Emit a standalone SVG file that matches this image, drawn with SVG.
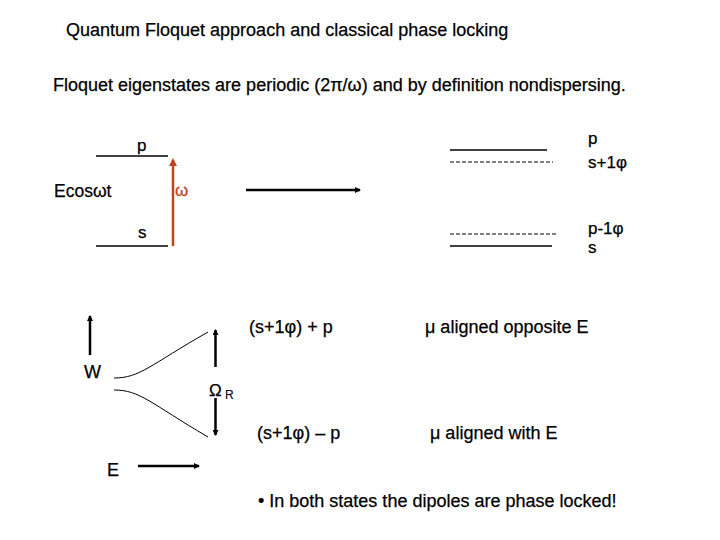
<svg xmlns="http://www.w3.org/2000/svg" width="720" height="540" viewBox="0 0 720 540">
<defs>
<style>
text{font-family:"Liberation Sans",Arial,sans-serif;font-size:18px;fill:#000;stroke:#000;stroke-width:0.25}
.ln{stroke:#000;stroke-width:1.3;fill:none}
.ds{stroke:#000;stroke-width:1;stroke-dasharray:4,2;fill:none}
.ar{stroke:#000;stroke-width:2.5;fill:none}
.cv{stroke:#000;stroke-width:1;fill:none}
</style>
<marker id="ah" markerWidth="6" markerHeight="6" refX="5" refY="3" orient="auto" markerUnits="userSpaceOnUse" viewBox="0 0 6 6"><path d="M0,0 L6,3 L0,6 z" fill="#000"/></marker>
<marker id="aho" markerWidth="8" markerHeight="8" refX="6" refY="4" orient="auto" markerUnits="userSpaceOnUse" viewBox="0 0 8 8"><path d="M0,0 L8,4 L0,8 z" fill="#c0441e"/></marker>
</defs>
<rect width="720" height="540" fill="#fff"/>
<g id="title"><text x="66" y="36">Quantum Floquet approach and classical phase locking</text></g>
<g id="subtitle"><text x="53" y="91">Floquet eigenstates are periodic (2π/ω) and by definition nondispersing.</text></g>
<g id="left-levels">
<line class="ln" x1="96" y1="156" x2="168" y2="156"/>
<text x="137" y="151" style="font-size:17px">p</text>
<line class="ln" x1="96" y1="246" x2="168" y2="246"/>
<text x="138" y="238" style="font-size:17px">s</text>
<text x="54" y="197" style="font-size:17.5px">Ecosωt</text>
<text x="175" y="196" style="font-size:17px;fill:#c0441e;stroke:#c0441e">ω</text>
</g>
<g id="right-levels">
<line class="ln" x1="450" y1="150" x2="547" y2="150"/>
<line class="ds" x1="450" y1="162" x2="553" y2="162"/>
<line class="ds" x1="450" y1="234" x2="558" y2="234"/>
<line class="ln" x1="450" y1="246" x2="552" y2="246"/>
<text x="588" y="144" style="font-size:17px">p</text>
<text x="588" y="168" style="font-size:17px">s+1φ</text>
<text x="588" y="234" style="font-size:17px">p-1φ</text>
<text x="588" y="253" style="font-size:17px">s</text>
</g>
<g id="split">
<text x="84" y="378">W</text>
<path class="cv" d="M114,378 C140,378 150,365 208,332"/>
<path class="cv" d="M114,390 C140,390 150,403 208,437"/>
<text x="209" y="396" style="font-size:17px">Ω</text>
<text x="225" y="399" style="font-size:12px;stroke-width:0.1">R</text>
<text x="249" y="333">(s+1φ) + p</text>
<text x="257" y="439">(s+1φ) – p</text>
<text x="425" y="333">μ aligned opposite E</text>
<text x="430" y="439">μ aligned with E</text>
<text x="107" y="476">E</text>
<text x="258" y="507">• In both states the dipoles are phase locked!</text>
</g>
<g id="connectors">
<line x1="173" y1="246" x2="173" y2="160" stroke="#c0441e" stroke-width="2.5" marker-end="url(#aho)"/>
<line class="ar" x1="246" y1="190" x2="360" y2="190" marker-end="url(#ah)"/>
<line class="ar" x1="90" y1="355" x2="90" y2="316" marker-end="url(#ah)"/>
<line class="ar" x1="215.5" y1="367" x2="215.5" y2="330" marker-end="url(#ah)"/>
<line class="ar" x1="215.5" y1="398" x2="215.5" y2="435" marker-end="url(#ah)"/>
<line class="ar" x1="138" y1="466" x2="199" y2="466" marker-end="url(#ah)"/>
</g>
</svg>
